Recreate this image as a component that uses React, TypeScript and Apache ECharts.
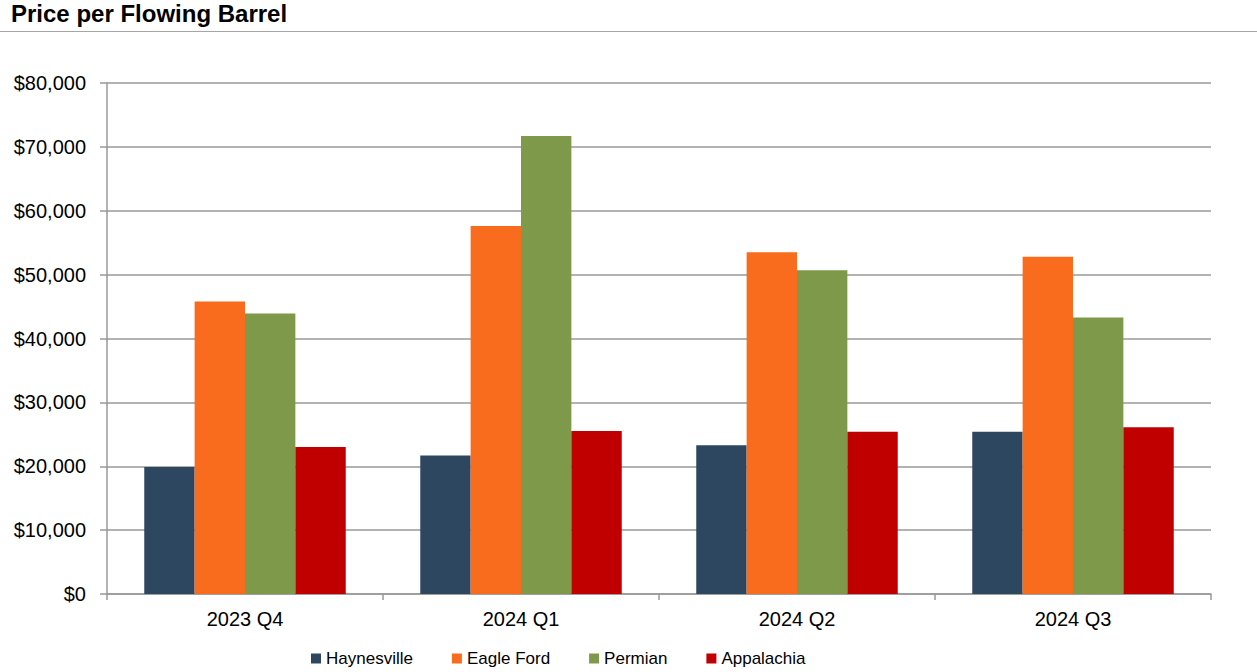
import React, { useEffect, useRef } from "react";
import * as echarts from "echarts";

const categories = ["2023 Q4", "2024 Q1", "2024 Q2", "2024 Q3"];
const haynesville = [19900, 21700, 23300, 25400];
const eagleFord = [45800, 57600, 53500, 52800];
const permian = [43900, 71700, 50700, 43300];
const appalachia = [23000, 25500, 25400, 26100];
const seriesNames = ["Haynesville", "Eagle Ford", "Permian", "Appalachia"];
const seriesColors = ["#2D4760", "#F96B1D", "#7E994A", "#C00000"];

const FONT = "Liberation Sans, Arial, sans-serif";

export default function App() {
  const ref = useRef<HTMLDivElement>(null);
  useEffect(() => {
    if (!ref.current) return;
    const chart = echarts.init(ref.current, undefined, { renderer: "svg" });
    const data = [haynesville, eagleFord, permian, appalachia];
    chart.setOption({
      animation: false,
      backgroundColor: "#ffffff",
      title: {
        text: "Price per Flowing Barrel",
        left: 11,
        top: 1,
        padding: 0,
        textStyle: { fontFamily: FONT, fontWeight: "bold", fontSize: 24, color: "#000" },
      },
      graphic: [
        {
          type: "line",
          shape: { x1: 0, y1: 31.5, x2: 1257, y2: 31.5 },
          style: { stroke: "#a6a6a6", lineWidth: 1 },
        },
      ],
      legend: {
        left: 311,
        top: 650,
        padding: 0,
        itemWidth: 10,
        itemHeight: 10,
        itemGap: 39,
        icon: "rect",
        textStyle: { fontFamily: FONT, fontSize: 17, color: "#000" },
        data: seriesNames,
      },
      grid: { left: 107, right: 46, top: 83, bottom: 78 },
      xAxis: {
        type: "category",
        data: categories,
        axisLine: { lineStyle: { color: "#999", width: 1.5 } },
        axisTick: { show: true, length: 6, alignWithLabel: false, lineStyle: { color: "#999", width: 1.5 } },
        axisLabel: { fontFamily: FONT, fontSize: 20, color: "#000", margin: 15 },
      },
      yAxis: {
        type: "value",
        min: 0,
        max: 80000,
        interval: 10000,
        axisLine: { show: true, lineStyle: { color: "#999", width: 1.5 } },
        axisTick: { show: true, length: 7, lineStyle: { color: "#999", width: 1.5 } },
        splitLine: { lineStyle: { color: "#999", width: 1.5 } },
        axisLabel: {
          fontFamily: FONT,
          fontSize: 20,
          color: "#000",
          margin: 21,
          formatter: (v: number) => "$" + v.toLocaleString("en-US"),
        },
      },
      series: seriesNames.map((name, i) => ({
        name,
        type: "bar",
        data: data[i],
        barGap: "0%",
        barCategoryGap: "27%",
        itemStyle: { color: seriesColors[i] },
      })),
    });
    return () => chart.dispose();
  }, []);
  return (
    <div
      ref={ref}
      style={{ position: "fixed", left: 0, top: 0, width: 1257, height: 672 }}
    />
  );
}
